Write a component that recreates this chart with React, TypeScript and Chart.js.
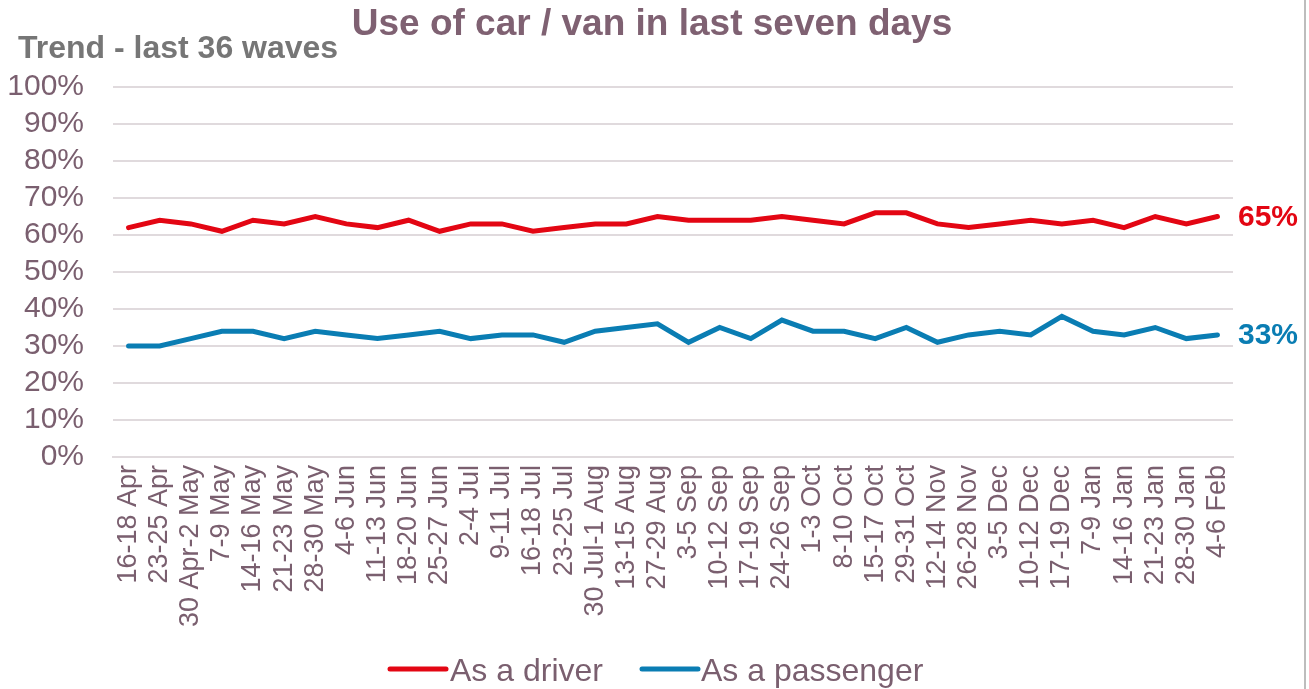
import React, { useEffect, useRef } from "react";
import { Chart, registerables } from "chart.js";

Chart.register(...registerables);

const waves: string[] = [
  "16-18 Apr", "23-25 Apr", "30 Apr-2 May", "7-9 May", "14-16 May", "21-23 May",
  "28-30 May", "4-6 Jun", "11-13 Jun", "18-20 Jun", "25-27 Jun", "2-4 Jul",
  "9-11 Jul", "16-18 Jul", "23-25 Jul", "30 Jul-1 Aug", "13-15 Aug", "27-29 Aug",
  "3-5 Sep", "10-12 Sep", "17-19 Sep", "24-26 Sep", "1-3 Oct", "8-10 Oct",
  "15-17 Oct", "29-31 Oct", "12-14 Nov", "26-28 Nov", "3-5 Dec", "10-12 Dec",
  "17-19 Dec", "7-9 Jan", "14-16 Jan", "21-23 Jan", "28-30 Jan", "4-6 Feb",
];

const asDriver: number[] = [
  62, 64, 63, 61, 64, 63, 65, 63, 62, 64, 61, 63, 63, 61, 62, 63, 63, 65,
  64, 64, 64, 65, 64, 63, 66, 66, 63, 62, 63, 64, 63, 64, 62, 65, 63, 65,
];

const asPassenger: number[] = [
  30, 30, 32, 34, 34, 32, 34, 33, 32, 33, 34, 32, 33, 33, 31, 34, 35, 36,
  31, 35, 32, 37, 34, 34, 32, 35, 31, 33, 34, 33, 38, 34, 33, 35, 32, 33,
];

const seriesNames: string[] = ["As a driver", "As a passenger"];
const seriesColors: string[] = ["#e30613", "#0a7db3"];
const yTicks: number[] = [0, 10, 20, 30, 40, 50, 60, 70, 80, 90, 100];

const titleText = "Use of car / van in last seven days";
const subtitleText = "Trend - last 36 waves";

const MAUVE = "#7a5f6f";
const FONT = "'Liberation Sans', Arial, sans-serif";

const decorPlugin = {
  id: "decor",
  afterDraw(chart: any) {
    const ctx = chart.ctx as CanvasRenderingContext2D;
    const area = chart.chartArea;
    const yScale = chart.scales.y;
    ctx.save();

    // Title
    ctx.fillStyle = "#7f6172";
    ctx.font = `bold 37px ${FONT}`;
    ctx.textAlign = "center";
    ctx.textBaseline = "alphabetic";
    ctx.fillText(titleText, 652, 35);

    // Subtitle
    ctx.fillStyle = "#767676";
    ctx.font = `bold 32px ${FONT}`;
    ctx.textAlign = "left";
    ctx.fillText(subtitleText, 18, 58);

    // End labels
    ctx.font = `bold 30px ${FONT}`;
    ctx.textBaseline = "middle";
    chart.data.datasets.forEach((ds: any) => {
      const last = ds.data[ds.data.length - 1];
      ctx.fillStyle = ds.borderColor;
      ctx.fillText(`${last}%`, area.right + 5, yScale.getPixelForValue(last) + 1);
    });

    // Legend
    const legendY = 669;
    const items = [
      { x0: 390, x1: 446, tx: 450 },
      { x0: 642, x1: 698, tx: 701 },
    ];
    ctx.font = `32px ${FONT}`;
    ctx.textBaseline = "alphabetic";
    chart.data.datasets.forEach((ds: any, i: number) => {
      const it = items[i];
      ctx.strokeStyle = ds.borderColor;
      ctx.lineWidth = 5;
      ctx.lineCap = "round";
      ctx.beginPath();
      ctx.moveTo(it.x0, legendY);
      ctx.lineTo(it.x1, legendY);
      ctx.stroke();
      ctx.fillStyle = MAUVE;
      ctx.fillText(ds.label, it.tx, 681);
    });

    // Right frame line
    ctx.strokeStyle = "#bdbdbd";
    ctx.lineWidth = 2;
    ctx.lineCap = "butt";
    ctx.beginPath();
    ctx.moveTo(1305, 0);
    ctx.lineTo(1305, 689);
    ctx.stroke();

    ctx.restore();
  },
};

export default function App() {
  const canvasRef = useRef<HTMLCanvasElement | null>(null);

  useEffect(() => {
    if (!canvasRef.current) return;
    const chart = new Chart(canvasRef.current, {
      type: "line",
      data: {
        labels: waves,
        datasets: [
          {
            label: seriesNames[0],
            data: asDriver,
            borderColor: seriesColors[0],
            backgroundColor: seriesColors[0],
            borderWidth: 5,
            pointRadius: 0,
            tension: 0,
            borderCapStyle: "round",
            borderJoinStyle: "miter",
          },
          {
            label: seriesNames[1],
            data: asPassenger,
            borderColor: seriesColors[1],
            backgroundColor: seriesColors[1],
            borderWidth: 5,
            pointRadius: 0,
            tension: 0,
            borderCapStyle: "round",
            borderJoinStyle: "miter",
          },
        ],
      },
      options: {
        responsive: false,
        animation: false,
        devicePixelRatio: 1,
        layout: { padding: { top: 87, right: 76, left: 0, bottom: 0 } },
        plugins: {
          legend: { display: false },
          title: { display: false },
          tooltip: { enabled: false },
        },
        scales: {
          x: {
            offset: true,
            grid: { display: false, drawTicks: false },
            border: { display: true, color: "#e0dadd", width: 2 },
            ticks: {
              autoSkip: false,
              maxRotation: 90,
              minRotation: 90,
              padding: 8,
              color: MAUVE,
              font: { family: FONT, size: 27 },
            },
            afterFit: (scale: any) => {
              scale.height = 232;
            },
          },
          y: {
            min: 0,
            max: 100,
            afterBuildTicks: (scale: any) => {
              scale.ticks = yTicks.map((v) => ({ value: v }));
            },
            grid: { color: "#e0dadd", lineWidth: 2, drawTicks: false },
            border: { display: false },
            ticks: {
              autoSkip: false,
              padding: 29,
              color: MAUVE,
              font: { family: FONT, size: 30 },
              callback: (v: any) => `${v}%`,
            },
            afterFit: (scale: any) => {
              scale.width = 113;
            },
          },
        },
      },
      plugins: [decorPlugin],
    });
    return () => chart.destroy();
  }, []);

  return (
    <div style={{ position: "absolute", left: 0, top: 0, width: 1309, height: 689, background: "#fff" }}>
      <canvas ref={canvasRef} width={1309} height={689} />
    </div>
  );
}
